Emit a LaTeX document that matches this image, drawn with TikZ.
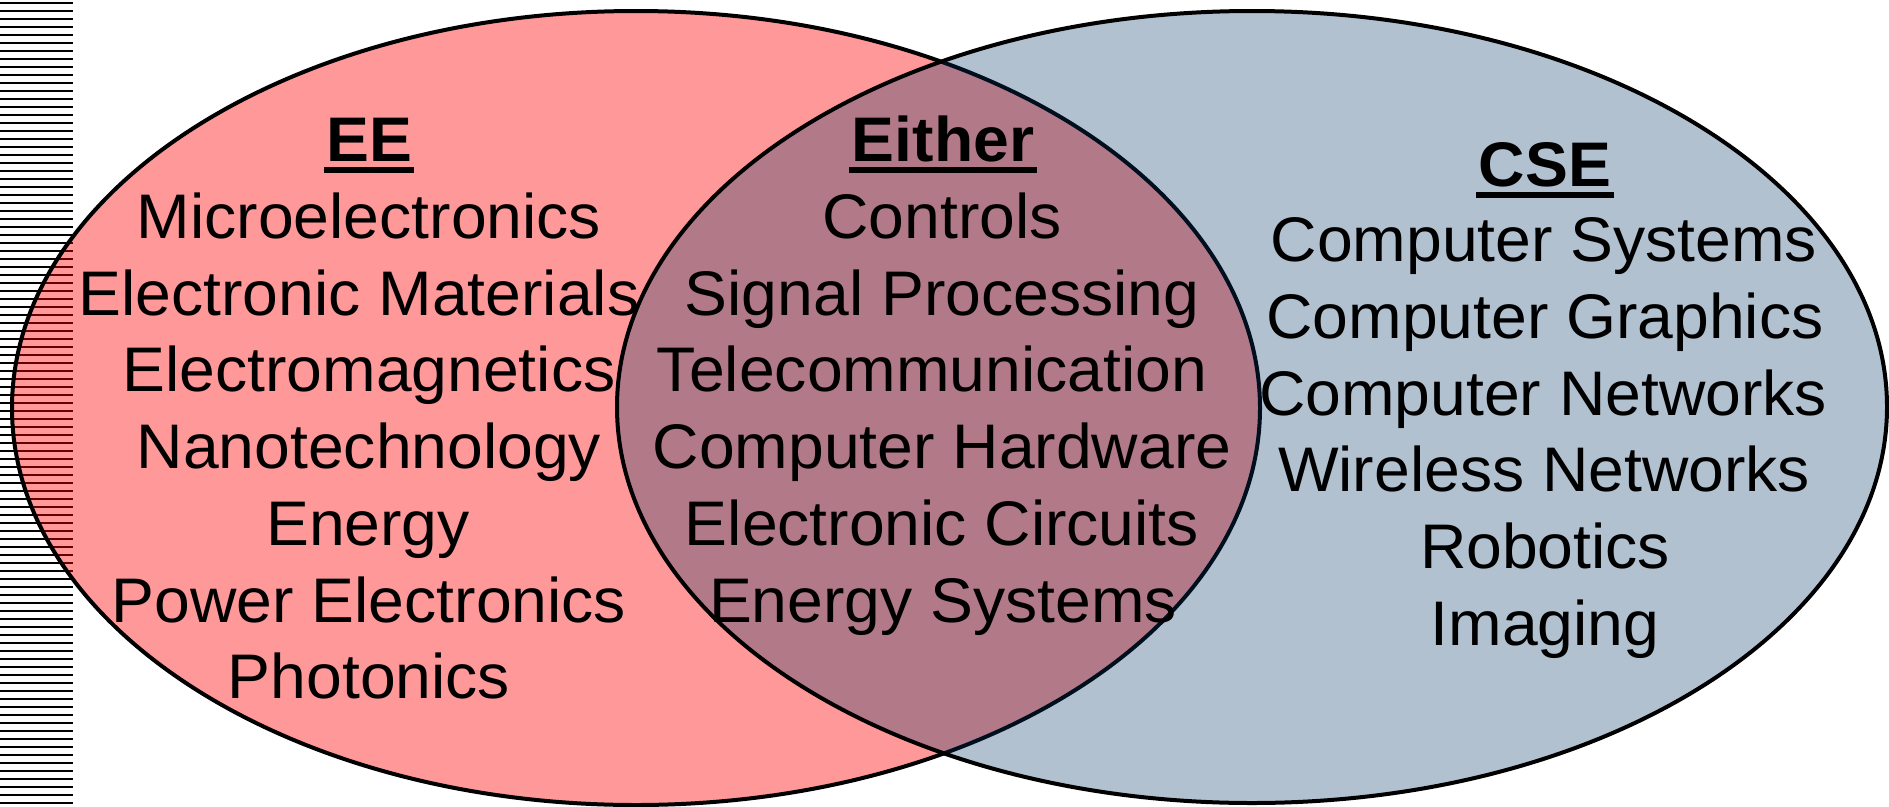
\documentclass[tikz,border=0pt]{standalone}
\usepackage{fontspec}
\setmainfont[FakeStretch=1.02]{Liberation Sans}
\definecolor{eered}{RGB}{255,0,0}
\definecolor{csenavy}{RGB}{0,51,102}
\newcommand\hdul[1]{\setbox0\hbox{\bfseries #1}\rlap{\kern-2.5pt\rule[-12pt]{\dimexpr\wd0+5pt\relax}{6.5pt}}\box0}
\tikzset{
  lbl/.style={inner sep=0pt, outer sep=0pt, anchor=base, font=\fontsize{63}{63}\selectfont, text=black},
  stripe/.style={line width=2pt, draw=black},
  venn/.style={line width=4pt, draw=black}
}
\begin{document}
\begin{tikzpicture}[x=1pt,y=-1pt]
\useasboundingbox[fill=white] (0,0) rectangle (1889,806);
% stripes at left edge
\foreach \k in {0,...,100}{
  \draw[stripe] (0,{3+8*\k}) -- (73,{3+8*\k});
}
% ellipses
\fill[eered, fill opacity=0.4] (636,408) ellipse [x radius=624pt, y radius=397pt];
\draw[venn] (636,408) ellipse [x radius=624pt, y radius=397pt];
\fill[csenavy, fill opacity=0.3] (1252,407) ellipse [x radius=635pt, y radius=396pt];
\draw[venn] (1252,407) ellipse [x radius=635pt, y radius=396pt];
% EE column
\node[lbl] (eeh) at (369,161) {\hdul{EE}};
\node[lbl] (ee1) at (369,238.5) {Microelectronics};
\node[lbl] (ee2) at (359,315.2) {Electronic Materials};
\node[lbl] (ee3) at (369,391.9) {Electromagnetics};
\node[lbl] (ee4) at (369,468.6) {Nanotechnology};
\node[lbl] (ee5) at (368,545.3) {Energy};
\node[lbl] (ee6) at (369,622) {Power Electronics};
\node[lbl] (ee7) at (369,698.7) {Photonics};
% Either column
\node[lbl] (eih) at (943,161) {\hdul{Either}};
\node[lbl] (ei1) at (942,238.5) {Controls};
\node[lbl] (ei2) at (942,315.2) {Signal Processing};
\node[lbl] (ei3) at (932,391.9) {Telecommunication};
\node[lbl] (ei4) at (942,468.6) {Computer Hardware};
\node[lbl] (ei5) at (942,545.3) {Electronic Circuits};
\node[lbl] (ei6) at (943,622) {Energy Systems};
% CSE column
\node[lbl] (csh) at (1545,186) {\hdul{CSE}};
\node[lbl] (cs1) at (1544,261.7) {Computer Systems};
\node[lbl] (cs2) at (1545,338.4) {Computer Graphics};
\node[lbl] (cs3) at (1543,415.1) {Computer Networks};
\node[lbl] (cs4) at (1544,491.8) {Wireless Networks};
\node[lbl] (cs5) at (1545,568.5) {Robotics};
\node[lbl] (cs6) at (1545,645.2) {Imaging};
\end{tikzpicture}
\end{document}
